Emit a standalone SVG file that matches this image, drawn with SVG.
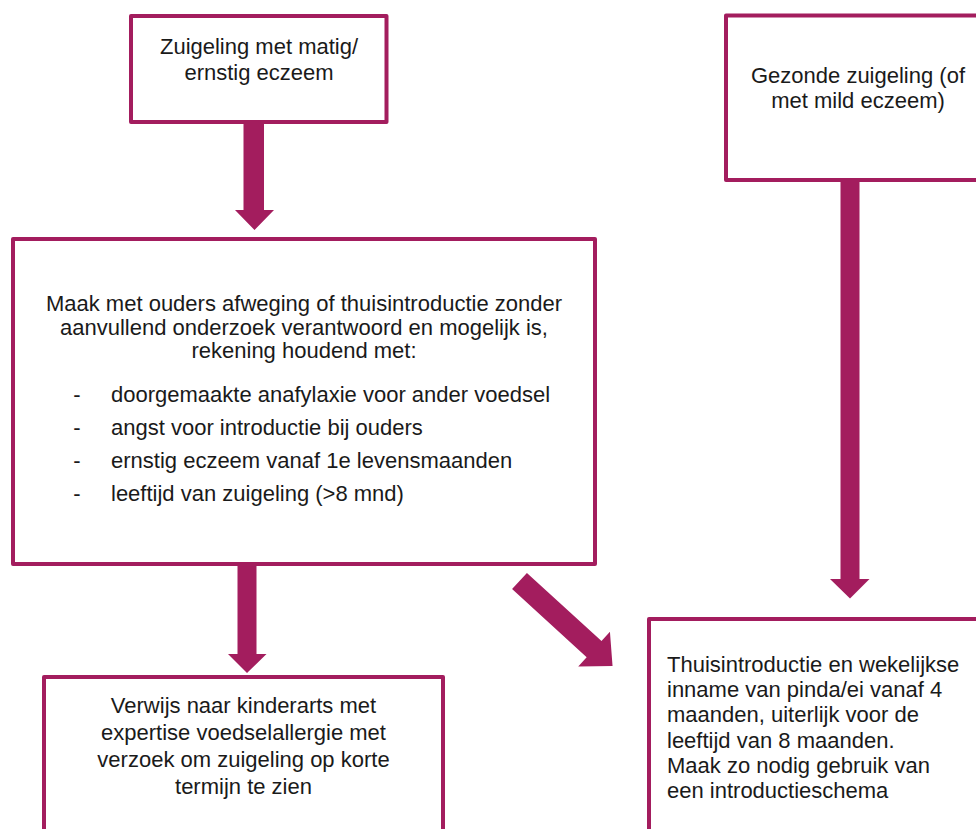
<svg xmlns="http://www.w3.org/2000/svg" width="976" height="829" viewBox="0 0 976 829">
<style>
.box{fill:#ffffff;stroke:#A31D5E;stroke-width:4;stroke-linejoin:round}
.t{font-family:"Liberation Sans",Arial,sans-serif;font-size:22px;fill:#1a1a1a}
.c{text-anchor:middle}
.arr{fill:#A31D5E}
</style>
<rect width="976" height="829" fill="#ffffff"/>
<g id="connectors">
<polygon class="arr" points="243.5,122 264,122 264,210 274,210 254.5,230 235,210 243.5,210"/>
<polygon class="arr" points="237.5,566 256.5,566 256.5,654 266.5,654 247,673 228,654 237.5,654"/>
<polygon class="arr" points="840.5,180 859.5,180 859.5,579 869.5,579 850,598.5 830,579 840.5,579"/>
<polygon class="arr" transform="translate(519.5,581) rotate(42.4)" points="0,-11 101,-11 101,-23.5 126,0 101,23.5 101,11 0,11"/>
</g>
<g id="n1">
<rect class="box" x="131" y="16" width="255.5" height="106"/>
<text class="t c" x="259" y="54">Zuigeling met matig/</text>
<text class="t c" x="259" y="80">ernstig eczeem</text>
</g>
<g id="n2">
<rect class="box" x="726" y="15.5" width="270" height="164.5"/>
<text class="t c" x="858" y="83">Gezonde zuigeling (of</text>
<text class="t c" x="858" y="108">met mild eczeem)</text>
</g>
<g id="n3">
<rect class="box" x="13" y="239" width="582" height="325"/>
<text class="t c" x="304" y="311">Maak met ouders afweging of thuisintroductie zonder</text>
<text class="t c" x="304" y="334.5">aanvullend onderzoek verantwoord en mogelijk is,</text>
<text class="t c" x="304" y="358">rekening houdend met:</text>
<text class="t c" x="77" y="402">-</text>
<text class="t" x="111" y="402">doorgemaakte anafylaxie voor ander voedsel</text>
<text class="t c" x="77" y="435">-</text>
<text class="t" x="111" y="435">angst voor introductie bij ouders</text>
<text class="t c" x="77" y="468">-</text>
<text class="t" x="111" y="468">ernstig eczeem vanaf 1e levensmaanden</text>
<text class="t c" x="77" y="501">-</text>
<text class="t" x="111" y="501">leeftijd van zuigeling (&gt;8 mnd)</text>
</g>
<g id="n4">
<rect class="box" x="44" y="677" width="399" height="200"/>
<text class="t c" x="243.5" y="713">Verwijs naar kinderarts met</text>
<text class="t c" x="243.5" y="740">expertise voedselallergie met</text>
<text class="t c" x="243.5" y="767">verzoek om zuigeling op korte</text>
<text class="t c" x="243.5" y="794">termijn te zien</text>
</g>
<g id="n5">
<rect class="box" x="649" y="619" width="360" height="260"/>
<text class="t" x="667" y="672">Thuisintroductie en wekelijkse</text>
<text class="t" x="667" y="697">inname van pinda/ei vanaf 4</text>
<text class="t" x="667" y="722">maanden, uiterlijk voor de</text>
<text class="t" x="667" y="747.5">leeftijd van 8 maanden.</text>
<text class="t" x="667" y="773">Maak zo nodig gebruik van</text>
<text class="t" x="667" y="798">een introductieschema</text>
</g>
</svg>
